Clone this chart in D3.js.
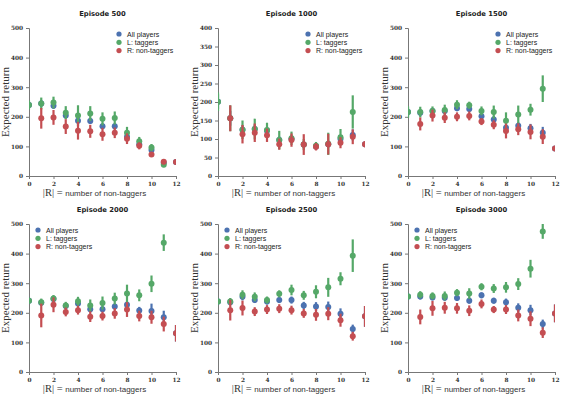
<!DOCTYPE html>
<html>
<head>
<meta charset="utf-8">
<script src="https://cdn.jsdelivr.net/npm/d3@7"></script>
<style>
  body { margin: 0; background: #fff; }
  svg { display: block; }
</style>
</head>
<body>
<svg id="chart" width="565" height="400"></svg>
<script>
// x positions: all players 0..12, taggers 0..11, non-taggers 1..12
const xTicks = [0, 2, 4, 6, 8, 10, 12];
const seriesNames = ['All players', 'L: taggers', 'R: non-taggers'];
const titles = ['Episode 500', 'Episode 1000', 'Episode 1500', 'Episode 2000', 'Episode 2500', 'Episode 3000'];

const ep500All    = [240, 245, 237, 204, 187, 186, 168, 168, 133, 107, 88, 45, 47];
const ep500AllErr = [10, 12, 10, 10, 12, 10, 10, 10, 10, 8, 8, 6, 8];
const ep500Tag    = [240, 245, 248, 214, 204, 211, 193, 196, 146, 117, 96, 38];
const ep500TagErr = [15, 20, 20, 22, 35, 25, 22, 22, 20, 15, 12, 8];
const ep500Non    = [195, 198, 167, 153, 151, 141, 146, 126, 102, 73, 48, 47];
const ep500NonErr = [35, 25, 25, 30, 22, 22, 18, 18, 12, 8, 8, 8];

const ep1000All    = [201, 156, 125, 127, 122, 97, 100, 85, 80, 86, 100, 111, 86];
const ep1000AllErr = [20, 20, 12, 12, 10, 10, 10, 10, 8, 10, 10, 15, 6];
const ep1000Tag    = [201, 156, 125, 127, 124, 97, 102, 85, 82, 87, 105, 173];
const ep1000TagErr = [25, 35, 25, 28, 20, 25, 18, 15, 10, 30, 22, 45];
const ep1000Non    = [156, 113, 117, 110, 86, 97, 85, 79, 86, 90, 106, 86];
const ep1000NonErr = [35, 25, 25, 18, 15, 18, 28, 10, 28, 15, 20, 8];

const ep1500All    = [216, 214, 220, 220, 229, 226, 202, 191, 163, 170, 161, 146, 93];
const ep1500AllErr = [15, 12, 10, 10, 10, 10, 10, 12, 12, 12, 15, 20, 8];
const ep1500Tag    = [216, 216, 220, 223, 241, 239, 220, 216, 187, 208, 224, 295];
const ep1500TagErr = [20, 18, 15, 18, 15, 12, 15, 22, 28, 30, 20, 45];
const ep1500Non    = [176, 204, 197, 200, 203, 184, 173, 152, 158, 149, 133, 93];
const ep1500NonErr = [22, 20, 18, 15, 15, 12, 15, 25, 20, 25, 25, 8];

const ep2000All    = [241, 234, 247, 223, 231, 212, 212, 221, 227, 208, 206, 185, 131];
const ep2000AllErr = [10, 10, 10, 10, 10, 10, 10, 10, 12, 12, 25, 22, 28];
const ep2000Tag    = [241, 236, 248, 225, 239, 225, 233, 248, 265, 259, 298, 437];
const ep2000TagErr = [10, 12, 12, 12, 15, 20, 22, 20, 30, 20, 28, 28];
const ep2000Non    = [191, 227, 203, 209, 187, 189, 198, 211, 189, 185, 162, 131];
const ep2000NonErr = [40, 25, 15, 15, 18, 15, 18, 25, 18, 22, 25, 28];

const ep2500All    = [238, 236, 254, 243, 238, 243, 243, 225, 221, 220, 197, 145, 188];
const ep2500AllErr = [10, 10, 12, 10, 10, 10, 12, 12, 15, 18, 18, 15, 35];
const ep2500Tag    = [238, 238, 261, 254, 243, 264, 277, 259, 271, 286, 315, 393];
const ep2500TagErr = [10, 12, 15, 15, 12, 12, 18, 15, 22, 32, 22, 55];
const ep2500Non    = [209, 216, 204, 211, 214, 209, 198, 193, 197, 175, 121, 188];
const ep2500NonErr = [35, 25, 15, 15, 15, 15, 15, 20, 22, 22, 15, 35];

const ep3000All    = [255, 255, 252, 251, 250, 241, 259, 241, 236, 217, 209, 162, 198];
const ep3000AllErr = [10, 10, 10, 10, 10, 10, 10, 10, 12, 15, 18, 15, 30];
const ep3000Tag    = [255, 261, 257, 257, 268, 265, 288, 282, 286, 297, 349, 475];
const ep3000TagErr = [10, 12, 12, 15, 12, 18, 12, 15, 18, 20, 30, 25];
const ep3000Non    = [186, 215, 217, 215, 207, 230, 211, 211, 191, 180, 133, 198];
const ep3000NonErr = [25, 25, 20, 18, 18, 15, 12, 15, 20, 25, 18, 30];

const yMaxes = [500, 400, 500, 500, 500, 500];
const yStep = [100, 50, 100, 100, 100, 100];

const panels = [
  [ep500All, ep500AllErr, ep500Tag, ep500TagErr, ep500Non, ep500NonErr],
  [ep1000All, ep1000AllErr, ep1000Tag, ep1000TagErr, ep1000Non, ep1000NonErr],
  [ep1500All, ep1500AllErr, ep1500Tag, ep1500TagErr, ep1500Non, ep1500NonErr],
  [ep2000All, ep2000AllErr, ep2000Tag, ep2000TagErr, ep2000Non, ep2000NonErr],
  [ep2500All, ep2500AllErr, ep2500Tag, ep2500TagErr, ep2500Non, ep2500NonErr],
  [ep3000All, ep3000AllErr, ep3000Tag, ep3000TagErr, ep3000Non, ep3000NonErr]
];

const colors = ['#4c72b0', '#55a868', '#c44e52'];

// plot boxes
const lefts = [29, 218, 408];
const tops = [28, 224];
const plotW = 147, plotH = 148;

const svg = d3.select('#chart');

panels.forEach((p, i) => {
  const col = i % 3, row = Math.floor(i / 3);
  const x0 = lefts[col], y0 = tops[row];
  const g = svg.append('g').attr('transform', `translate(${x0},${y0})`);

  const x = d3.scaleLinear().domain([0, 12]).range([0, plotW]);
  const y = d3.scaleLinear().domain([0, yMaxes[i]]).range([plotH, 0]);

  const clipId = 'clip' + i;
  g.append('clipPath').attr('id', clipId)
    .append('rect').attr('width', plotW).attr('height', plotH);

  // axes
  const yAxis = g.append('g')
    .call(d3.axisLeft(y).tickValues(d3.range(0, yMaxes[i] + 1, yStep[i])).tickSize(3).tickPadding(3));
  const xAxis = g.append('g')
    .attr('transform', `translate(0,${plotH})`)
    .call(d3.axisBottom(x).tickValues(xTicks).tickSize(3).tickPadding(3));
  [xAxis, yAxis].forEach(a => {
    a.select('.domain').attr('stroke', '#777').attr('stroke-width', 1);
    a.selectAll('.tick line').attr('stroke', '#777');
    a.selectAll('.tick text')
      .attr('fill', '#333')
      .style('font-family', 'DejaVu Serif')
      .style('font-weight', 'bold')
      .style('font-size', '5.8px');
  });

  // series: all players, taggers, non-taggers
  const sets = [
    { vals: p[0], errs: p[1], start: 0 },
    { vals: p[2], errs: p[3], start: 0 },
    { vals: p[4], errs: p[5], start: 1 }
  ];
  const marks = g.append('g').attr('clip-path', `url(#${clipId})`);
  sets.forEach((s, k) => {
    const pts = s.vals.map((v, j) => ({ x: j + s.start, v, e: s.errs[j] }));
    const sg = marks.append('g');
    sg.selectAll('line').data(pts).join('line')
      .attr('x1', d => x(d.x)).attr('x2', d => x(d.x))
      .attr('y1', d => y(d.v - d.e)).attr('y2', d => y(d.v + d.e))
      .attr('stroke', colors[k]).attr('stroke-width', 2.2);
    sg.selectAll('circle').data(pts).join('circle')
      .attr('cx', d => x(d.x)).attr('cy', d => y(d.v))
      .attr('r', 3).attr('fill', colors[k]);
  });

  // title
  g.append('text')
    .attr('x', plotW / 2).attr('y', -12)
    .attr('text-anchor', 'middle')
    .style('font-family', 'DejaVu Sans').style('font-weight', 'bold').style('font-size', '6.8px')
    .attr('fill', '#222')
    .text(titles[i]);

  // y label
  g.append('text')
    .attr('transform', `translate(-20,${plotH / 2}) rotate(-90)`)
    .attr('text-anchor', 'middle')
    .style('font-family', 'Liberation Serif').style('font-size', '11px')
    .attr('fill', '#333')
    .text('Expected return');

  // x label
  const xl = g.append('text')
    .attr('x', plotW / 2 - 8).attr('y', plotH + 20)
    .attr('text-anchor', 'middle')
    .attr('fill', '#333');
  xl.append('tspan').style('font-family', 'Liberation Serif').style('font-size', '10.5px').text('|R| = ');
  xl.append('tspan').style('font-family', 'Liberation Sans').style('font-size', '8px').text(' number of non-taggers');

  // legend
  const lx = row === 0 ? plotW - 57 : 9;
  const ly = 6;
  const leg = g.append('g').attr('transform', `translate(${lx},${ly})`);
  seriesNames.forEach((name, k) => {
    leg.append('circle').attr('cx', 0).attr('cy', k * 8.3).attr('r', 2.6).attr('fill', colors[k]);
    leg.append('text').attr('x', 8).attr('y', k * 8.3 + 2.5)
      .style('font-family', 'Liberation Sans').style('font-size', '7px')
      .attr('fill', '#222')
      .text(name);
  });
});
</script>
</body>
</html>
